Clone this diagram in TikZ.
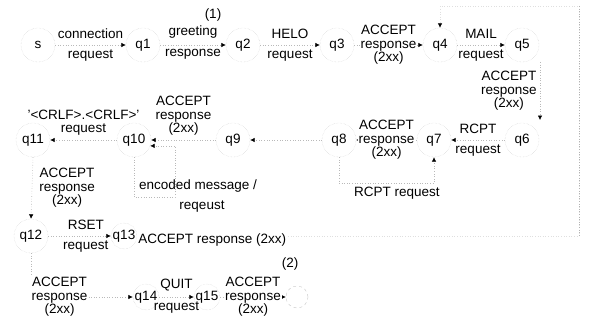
\documentclass[tikz,border=0pt]{standalone}
\usepackage{fontspec}
\setmainfont{Liberation Sans}
\usetikzlibrary{arrows.meta,calc}
\begin{document}
\begin{tikzpicture}[x=1pt,y=-1pt,
  state/.style={circle,draw=gray!40,densely dotted,minimum size=34pt,inner sep=0pt,font=\fontsize{13.5}{15}\selectfont},
  small/.style={minimum size=26pt},
  edge/.style={draw=gray!55,dotted,line width=0.6pt,-{Latex[length=4.5pt,width=4.5pt,black]}},
  faint/.style={draw=gray!25},
  lab/.style={font=\fontsize{13.5}{13.5}\selectfont,inner sep=1pt,align=center},
  mark12/.style={font=\fontsize{13.5}{15}\selectfont,inner sep=0pt},
]
\useasboundingbox (0,0) rectangle (596,326);
% row 1
\node[state] (s)  at (38,45)  {s};
\node[state] (q1) at (143,45) {q1};
\node[state] (q2) at (243,45) {q2};
\node[state] (q3) at (337,45) {q3};
\node[state] (q4) at (440,45) {q4};
\node[state] (q5) at (522,45) {q5};
% row 2
\node[state] (q6)  at (522,140) {q6};
\node[state] (q7)  at (434,140) {q7};
\node[state] (q8)  at (339,140) {q8};
\node[state] (q9)  at (233,140) {q9};
\node[state] (q10) at (134,140) {q10};
\node[state] (q11) at (33,140)  {q11};
% row 3
\node[state] (q12) at (31,236)  {q12};
\node[state,small] (q13) at (124,236) {q13};
% row 4
\node[state,small] (q14) at (146,297) {q14};
\node[state,small] (q15) at (207,297) {q15};
\node[circle,draw=gray!45,dashed,minimum size=22pt,inner sep=0pt] (qf) at (297,297) {};

\node[mark12] (m1) at (213,15) {(1)};
\node[mark12] (m2) at (290,264) {(2)};

% row 1 edges
\draw[edge] (s) -- (q1) node[lab,midway,above=5pt] {connection} node[lab,midway,below=3pt] {request};
\draw[edge] (q1) -- (q2) node[lab,midway,above=5pt] {greeting} node[lab,midway,below=3pt] {response};
\draw[edge] (q2) -- (q3) node[lab,midway,above=5pt] {HELO} node[lab,midway,below=3pt] {request};
\draw[edge] (q3) -- (q4) node[lab,midway,fill=white] {ACCEPT\\response\\(2xx)};
\draw[edge] (q4) -- (q5) node[lab,midway,above=5pt] {MAIL} node[lab,midway,below=3pt] {request};
% q5 -> q6
\coordinate (a1) at (540,62);
\coordinate (a2) at (540,120);
\draw[edge] (a1) -- (a2) node[lab,midway,left=2pt] {ACCEPT\\response\\(2xx)};
% row 2 edges
\draw[edge] (q6) -- (q7) node[lab,midway,above=5pt] {RCPT} node[lab,midway,below=3pt] {request};
\draw[edge] (q7) -- (q8) node[lab,midway,fill=white] {ACCEPT\\response\\(2xx)};
\draw[edge] (q8) -- (q9);
\draw[edge] (q9) -- (q10) node[lab,midway,above=3pt] {ACCEPT\\response\\(2xx)};
\draw[edge] (q10) -- (q11) node[lab,midway,above=3pt] {'<CRLF>.<CRLF>'\\request};
% RCPT loop q8 -> q7
\draw[edge] (q8.south) -- ++(0,26) -| (q7.south);
\node[lab] (rcpt) at (397,193) {RCPT request};
% encoded message loop on q10
\coordinate (l1) at (175,197);
\draw[edge] (q10.south) |- (l1) -- (l1 |- q10.-20) -- (q10.-20);
\node[lab,anchor=south] (enc1) at (198,193) {encoded message /};
\node[lab,anchor=north] (enc2) at (202,200) {reqeust};
% q11 -> q12
\draw[edge] (q11.south) -- (q12.north) node[lab,midway,right=6pt] {ACCEPT\\response\\(2xx)};
% row 3
\draw[edge] (q12) -- (q13) node[lab,pos=0.6,above=5pt] {RSET} node[lab,pos=0.6,below=3pt] {request};
\coordinate (r1) at (579,236);
\coordinate (r2) at (579,6);
\coordinate (r3) at (440,6);
\draw[edge,faint] (q13.east) -- (r1) -- (r2) -- (r3) -- (q4.north);
\draw[draw=gray!60,dotted,line width=0.6pt] (r2) -- (r1);
\node[lab,anchor=west,fill=white] (acc13) at ([yshift=-4pt]q13.east) {ACCEPT response (2xx)};
% row 4
\draw[edge] (q12.south) |- (q14.west) node[lab,pos=0.64,fill=white] {ACCEPT\\response\\(2xx)};
\draw[edge] (q14) -- (q15) node[lab,midway,above=5pt] {QUIT} node[lab,midway,below=3pt] {request};
\draw[edge] (q15) -- (qf) node[lab,midway,fill=white] {ACCEPT\\response\\(2xx)};
\end{tikzpicture}
\end{document}
